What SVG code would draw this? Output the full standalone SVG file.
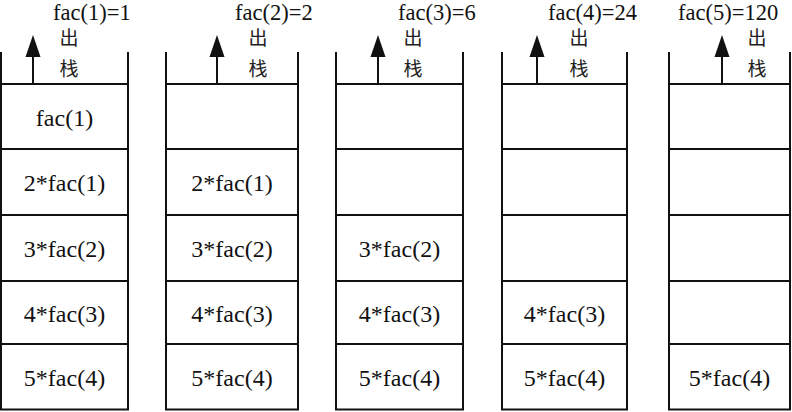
<svg xmlns="http://www.w3.org/2000/svg" width="792" height="412" viewBox="0 0 792 412">
<style>
.ln{fill:none;stroke:#111;stroke-width:2}
.t{font-family:'Liberation Serif','DejaVu Serif','Times New Roman',serif;font-size:24px;fill:#111;text-anchor:middle}
.top{font-family:'Liberation Serif','DejaVu Serif','Times New Roman',serif;font-size:22.5px;fill:#111}
.cn{font-family:'Noto Sans CJK SC','Noto Sans CJK JP',sans-serif;font-size:19px;fill:#222;text-anchor:middle}
.ar{stroke:#111;stroke-width:2;fill:none}
.ah{fill:#111}
</style>
<rect width="792" height="412" fill="#fff"/>
<g id="stack1">
<path class="ln" d="M1,52V409.5H128V52M1,84H128M1,149H128M1,215H128M1,281H128M1,344H128"/>
<text class="t" x="64.5" y="125.5">fac(1)</text>
<text class="t" x="64.5" y="191">2*fac(1)</text>
<text class="t" x="64.5" y="257">3*fac(2)</text>
<text class="t" x="64.5" y="321.5">4*fac(3)</text>
<text class="t" x="64.5" y="385.5">5*fac(4)</text>
<text class="top" x="53" y="20">fac(1)=1</text>
<text class="cn" x="69" y="45">出</text>
<text class="cn" x="69" y="76">栈</text>
</g>
<g id="stack2">
<path class="ln" d="M166,52V409.5H298V52M166,84H298M166,149H298M166,215H298M166,281H298M166,344H298"/>
<text class="t" x="232" y="191">2*fac(1)</text>
<text class="t" x="232" y="257">3*fac(2)</text>
<text class="t" x="232" y="321.5">4*fac(3)</text>
<text class="t" x="232" y="385.5">5*fac(4)</text>
<text class="top" x="235" y="20">fac(2)=2</text>
<text class="cn" x="258" y="45">出</text>
<text class="cn" x="258" y="76">栈</text>
</g>
<g id="stack3">
<path class="ln" d="M336,52V409.5H463V52M336,84H463M336,149H463M336,215H463M336,281H463M336,344H463"/>
<text class="t" x="399.5" y="257">3*fac(2)</text>
<text class="t" x="399.5" y="321.5">4*fac(3)</text>
<text class="t" x="399.5" y="385.5">5*fac(4)</text>
<text class="top" x="398" y="20">fac(3)=6</text>
<text class="cn" x="413" y="45">出</text>
<text class="cn" x="413" y="76">栈</text>
</g>
<g id="stack4">
<path class="ln" d="M502,52V409.5H627V52M502,84H627M502,149H627M502,215H627M502,281H627M502,344H627"/>
<text class="t" x="564.5" y="321.5">4*fac(3)</text>
<text class="t" x="564.5" y="385.5">5*fac(4)</text>
<text class="top" x="548" y="20">fac(4)=24</text>
<text class="cn" x="579" y="45">出</text>
<text class="cn" x="579" y="76">栈</text>
</g>
<g id="stack5">
<path class="ln" d="M669,52V409.5H790V52M669,84H790M669,149H790M669,215H790M669,281H790M669,344H790"/>
<text class="t" x="729.5" y="385.5">5*fac(4)</text>
<text class="top" x="678" y="20">fac(5)=120</text>
<text class="cn" x="757" y="45">出</text>
<text class="cn" x="757" y="76">栈</text>
</g>
<g id="connectors">
<path class="ar" d="M33,84V56"/><polygon class="ah" points="33,35 25.5,57 40.5,57"/>
<path class="ar" d="M217,84V56"/><polygon class="ah" points="217,35 209.5,57 224.5,57"/>
<path class="ar" d="M378,84V56"/><polygon class="ah" points="378,35 370.5,57 385.5,57"/>
<path class="ar" d="M537,84V56"/><polygon class="ah" points="537,35 529.5,57 544.5,57"/>
<path class="ar" d="M722,84V56"/><polygon class="ah" points="722,35 714.5,57 729.5,57"/>
</g>
</svg>
